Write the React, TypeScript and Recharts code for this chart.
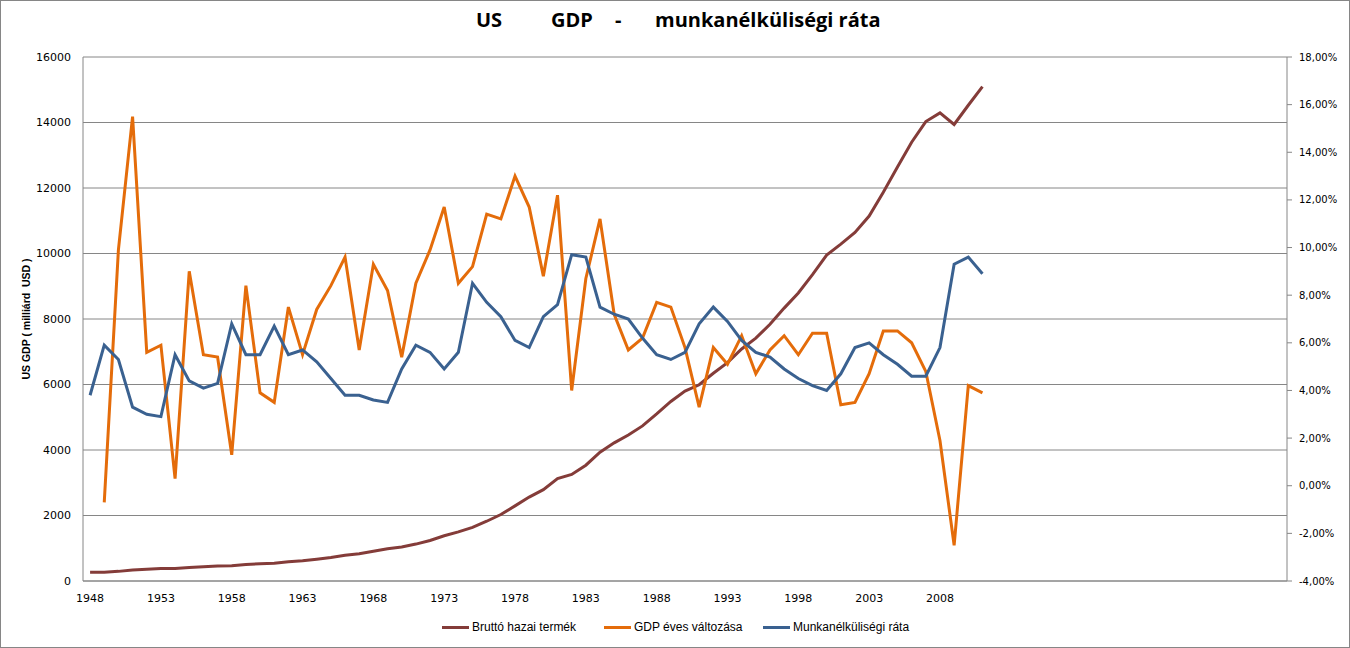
import React from 'react';
import { LineChart, Line, XAxis, YAxis, CartesianGrid } from 'recharts';

const years = [
  1948, 1949, 1950, 1951, 1952, 1953, 1954, 1955, 1956, 1957, 1958, 1959,
  1960, 1961, 1962, 1963, 1964, 1965, 1966, 1967, 1968, 1969,
  1970, 1971, 1972, 1973, 1974, 1975, 1976, 1977, 1978, 1979,
  1980, 1981, 1982, 1983, 1984, 1985, 1986, 1987, 1988, 1989,
  1990, 1991, 1992, 1993, 1994, 1995, 1996, 1997, 1998, 1999,
  2000, 2001, 2002, 2003, 2004, 2005, 2006, 2007, 2008, 2009, 2010, 2011,
];

// Bruttó hazai termék (milliárd USD)
const gdp = [
  269, 267, 294, 339, 358, 379, 380, 415, 438, 461, 467, 507,
  526, 545, 586, 618, 664, 719, 788, 833, 910, 985,
  1038, 1127, 1238, 1382, 1500, 1638, 1825, 2030, 2294, 2562,
  2788, 3127, 3253, 3535, 3931, 4218, 4460, 4736, 5100, 5482,
  5801, 5992, 6342, 6667, 7085, 7415, 7839, 8332, 8794, 9354,
  9952, 10286, 10642, 11142, 11868, 12638, 13399, 14029, 14292, 13939, 14527, 15094,
];

// GDP éves változása (%)
const growth: (number | null)[] = [
  null, -0.7, 9.9, 15.5, 5.6, 5.9, 0.3, 9.0, 5.5, 5.4, 1.3, 8.4,
  3.9, 3.5, 7.5, 5.5, 7.4, 8.4, 9.6, 5.7, 9.3, 8.2,
  5.4, 8.5, 9.9, 11.7, 8.5, 9.2, 11.4, 11.2, 13.0, 11.7,
  8.8, 12.2, 4.0, 8.7, 11.2, 7.2, 5.7, 6.2, 7.7, 7.5,
  5.8, 3.3, 5.8, 5.1, 6.3, 4.7, 5.7, 6.3, 5.5, 6.4,
  6.4, 3.4, 3.5, 4.7, 6.5, 6.5, 6.0, 4.8, 1.9, -2.5, 4.2, 3.9,
];

// Munkanélküliségi ráta (%)
const unemp = [
  3.8, 5.9, 5.3, 3.3, 3.0, 2.9, 5.5, 4.4, 4.1, 4.3, 6.8, 5.5,
  5.5, 6.7, 5.5, 5.7, 5.2, 4.5, 3.8, 3.8, 3.6, 3.5,
  4.9, 5.9, 5.6, 4.9, 5.6, 8.5, 7.7, 7.1, 6.1, 5.8,
  7.1, 7.6, 9.7, 9.6, 7.5, 7.2, 7.0, 6.2, 5.5, 5.3,
  5.6, 6.8, 7.5, 6.9, 6.1, 5.6, 5.4, 4.9, 4.5, 4.2,
  4.0, 4.7, 5.8, 6.0, 5.5, 5.1, 4.6, 4.6, 5.8, 9.3, 9.6, 8.9,
];

const xTicks = [1948, 1953, 1958, 1963, 1968, 1973, 1978, 1983, 1988, 1993, 1998, 2003, 2008];
const leftTicks = [0, 2000, 4000, 6000, 8000, 10000, 12000, 14000, 16000];
const rightTicks = [-4, -2, 0, 2, 4, 6, 8, 10, 12, 14, 16, 18];

const data = years.map((year, i) => ({
  year,
  gdp: gdp[i],
  growth: growth[i],
  unemp: unemp[i],
}));

const BROWN = '#843C39';
const ORANGE = '#E46C0A';
const BLUE = '#3A6190';
const GRAY = '#868686';

const fmtPct = (v: number) => v.toFixed(2).replace('.', ',') + '%';

const legendItems = [
  { label: 'Bruttó hazai termék', color: BROWN, left: 442 },
  { label: 'GDP éves változása', color: ORANGE, left: 604 },
  { label: 'Munkanélküliségi ráta', color: BLUE, left: 763 },
];

const titleStyle: React.CSSProperties = {
  position: 'absolute',
  top: 10,
  fontFamily: '"Open Sans", sans-serif',
  fontWeight: 700,
  fontSize: 20,
  lineHeight: '20px',
  color: '#000',
  whiteSpace: 'pre',
};

export default function App() {
  return (
    <div style={{ position: 'absolute', left: 0, top: 0, width: 1350, height: 648, background: '#fff' }}>
      <LineChart
        width={1350}
        height={648}
        data={data}
        margin={{ top: 57, right: 0, bottom: 0, left: 0 }}
        style={{ position: 'absolute', left: 0, top: 0 }}
      >
        <CartesianGrid yAxisId="left" vertical={false} stroke={GRAY} />
        <XAxis
          dataKey="year"
          type="number"
          domain={[1947.5, 2032.5]}
          ticks={xTicks}
          interval={0}
          height={67}
          tickLine={false}
          tickSize={6}
          tickMargin={7}
          axisLine={{ stroke: GRAY }}
          tick={{ fill: '#000', fontSize: 11, fontFamily: 'DejaVu Sans' }}
        />
        <YAxis
          yAxisId="left"
          orientation="left"
          width={83}
          domain={[0, 16000]}
          ticks={leftTicks}
          interval={0}
          tickLine={false}
          tickSize={6}
          tickMargin={6}
          axisLine={{ stroke: GRAY }}
          tick={{ fill: '#000', fontSize: 11, fontFamily: 'DejaVu Sans' }}
        />
        <YAxis
          yAxisId="right"
          orientation="right"
          width={63}
          domain={[-4, 18]}
          ticks={rightTicks}
          interval={0}
          tickFormatter={fmtPct}
          tickSize={5}
          tickMargin={7}
          tickLine={{ stroke: GRAY }}
          axisLine={{ stroke: GRAY }}
          tick={{ fill: '#000', fontSize: 10, fontFamily: 'DejaVu Sans' }}
        />
        <Line yAxisId="left" dataKey="gdp" stroke={BROWN} strokeWidth={3} dot={false} isAnimationActive={false} />
        <Line yAxisId="right" dataKey="growth" stroke={ORANGE} strokeWidth={3} dot={false} isAnimationActive={false} />
        <Line yAxisId="right" dataKey="unemp" stroke={BLUE} strokeWidth={3} dot={false} isAnimationActive={false} />
      </LineChart>

      <div style={{ ...titleStyle, left: 476 }}>US</div>
      <div style={{ ...titleStyle, left: 551 }}>GDP</div>
      <div style={{ ...titleStyle, left: 615 }}>-</div>
      <div style={{ ...titleStyle, left: 655 }}>munkanélküliségi ráta</div>

      <div
        style={{
          position: 'absolute',
          left: 26 - 100,
          top: 319 - 8,
          width: 200,
          height: 16,
          lineHeight: '16px',
          textAlign: 'center',
          transform: 'rotate(-90deg)',
          fontFamily: '"Liberation Sans", sans-serif',
          fontWeight: 700,
          fontSize: 10.5,
          color: '#000',
          whiteSpace: 'pre',
        }}
      >
        US GDP ( milliárd  USD )
      </div>

      {legendItems.map((it) => (
        <div
          key={it.label}
          style={{
            position: 'absolute',
            left: it.left,
            top: 619,
            height: 16,
            display: 'flex',
            alignItems: 'center',
            fontFamily: '"Liberation Sans", sans-serif',
            fontSize: 12,
            color: '#000',
            whiteSpace: 'nowrap',
          }}
        >
          <span style={{ display: 'inline-block', width: 27, height: 3, background: it.color, marginRight: 3 }} />
          {it.label}
        </div>
      ))}

      <div
        style={{
          position: 'absolute',
          left: 0,
          top: 0,
          width: 1350,
          height: 648,
          boxSizing: 'border-box',
          border: `1px solid ${GRAY}`,
          pointerEvents: 'none',
        }}
      />
    </div>
  );
}
